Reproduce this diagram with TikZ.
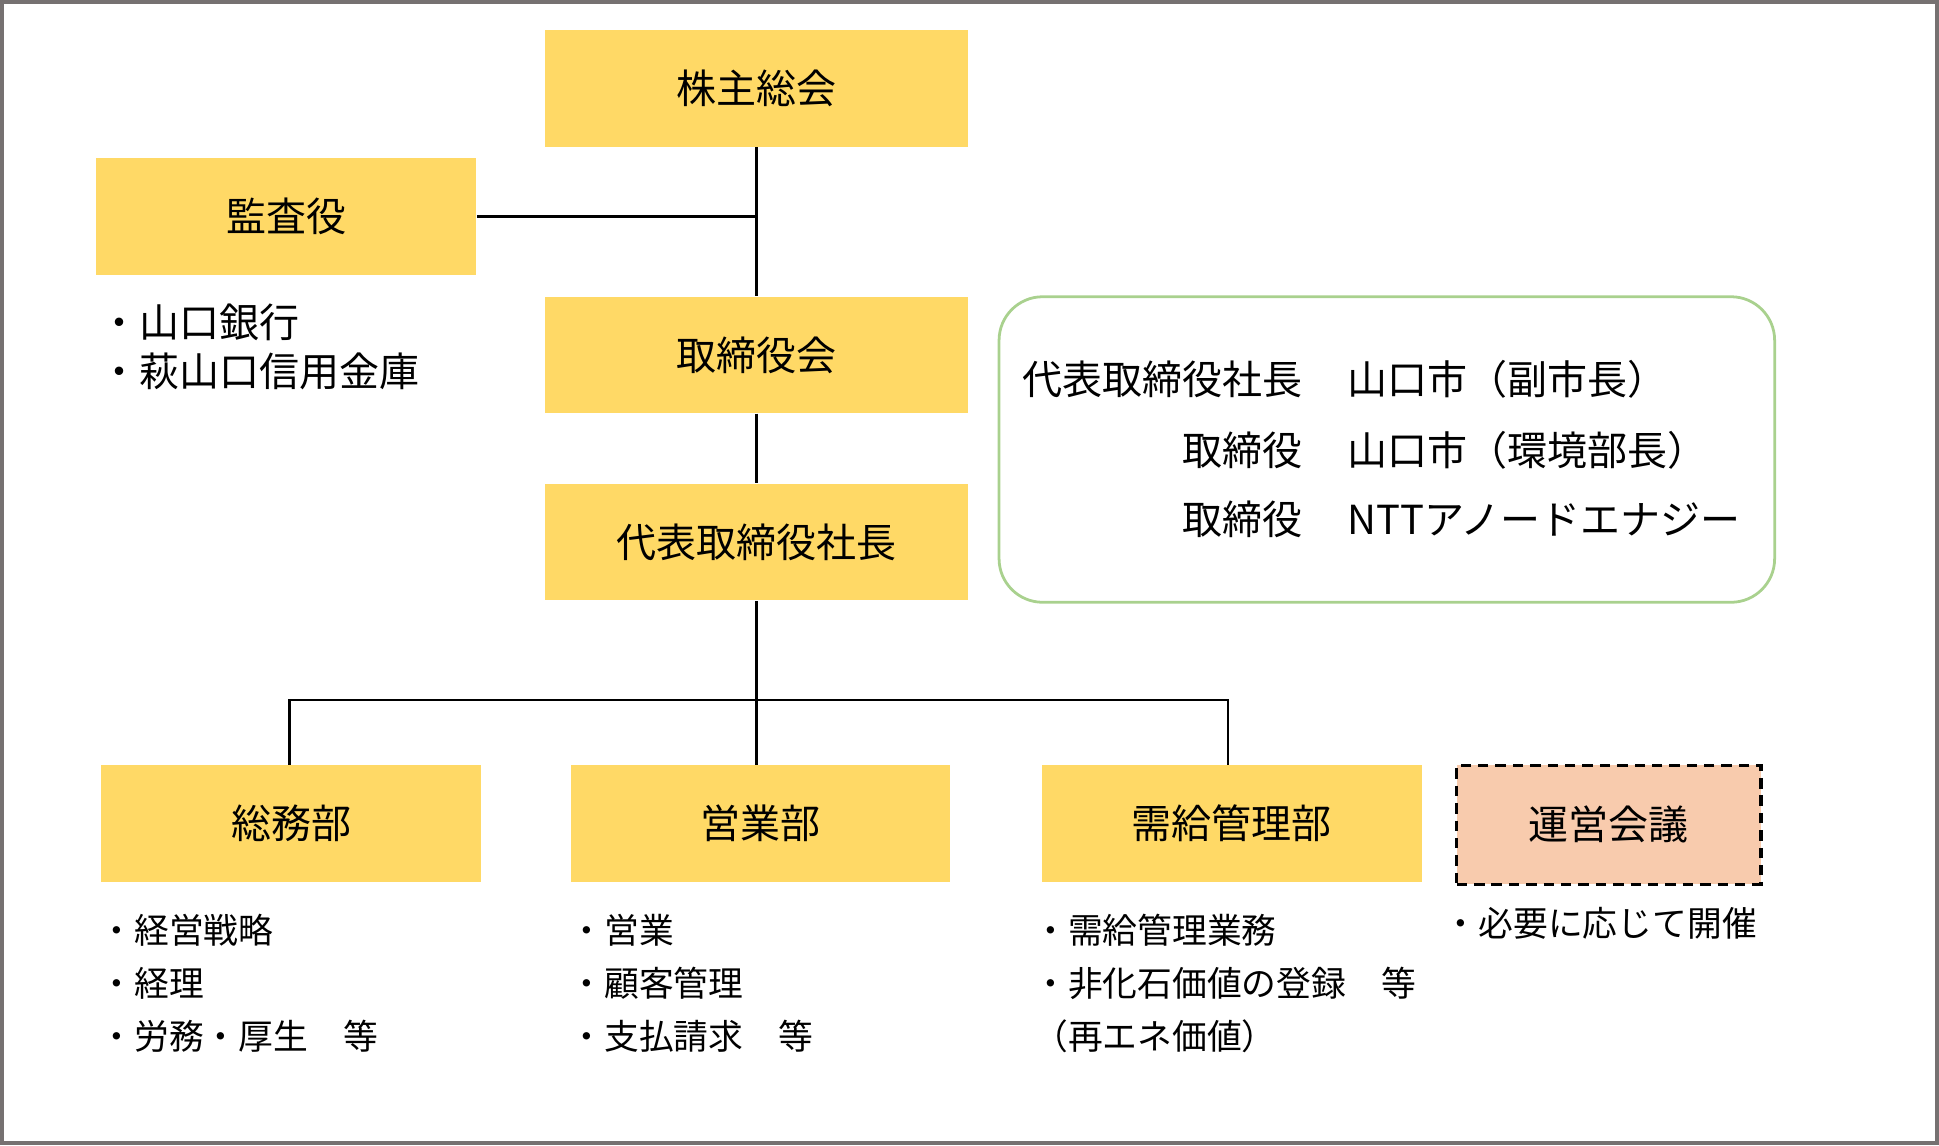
\documentclass[tikz,border=0pt]{standalone}
\usepackage{fontspec}
\setmainfont{Noto Sans CJK JP}
\usepackage{tikz}
\usetikzlibrary{positioning,calc}
\definecolor{boxyellow}{RGB}{255,217,102}
\definecolor{meetingpeach}{RGB}{248,203,173}
\definecolor{boardgreen}{RGB}{169,209,142}
\definecolor{framegray}{RGB}{118,113,113}
\tikzset{
  orgbox/.style={fill=boxyellow, inner sep=0pt, minimum height=1.175cm, font=\fontsize{11.5}{14}\selectfont},
  topbox/.style={orgbox, minimum width=4.275cm},
  deptbox/.style={orgbox, minimum width=3.8375cm},
  listitem/.style={anchor=west, inner sep=0pt, font=\fontsize{10}{12}\selectfont},
  boarditem/.style={inner sep=0pt, font=\fontsize{11.5}{14}\selectfont},
  orgline/.style={line width=0.8pt, black},
}

\begin{document}
\begin{tikzpicture}[x=0.0125cm, y=-0.0125cm]
  \useasboundingbox (0,0) rectangle (1568,926);
  \draw[framegray, line width=1.3pt] (1.8,1.8) rectangle (1566.2,924.2);

  % top of the chart
  \node[topbox] (kabunushi) at (612,71.5) {株主総会};
  \node[deptbox] (kansa) at (231.5,175) {監査役};
  \node[topbox] (torishimari) at (612,287) {取締役会};
  \node[topbox] (shacho) at (612,438.5) {代表取締役社長};

  \node[listitem, font=\fontsize{11.5}{13}\selectfont] (kansa1) at (80,261) {・山口銀行};
  \node[listitem, font=\fontsize{11.5}{13}\selectfont] (kansa2) at (80,300) {・萩山口信用金庫};

  % board members
  \node[draw=boardgreen, line width=0.8pt, rounded corners=0.44cm,
        minimum width=7.8375cm, minimum height=3.0875cm] (yakuin) at (1121.5,363.5) {};
  \node[boarditem, anchor=east] (post1) at (1054,307) {代表取締役社長};
  \node[boarditem, anchor=west] (name1) at (1089,307) {山口市（副市長）};
  \node[boarditem, anchor=east] (post2) at (1054,364) {取締役};
  \node[boarditem, anchor=west] (name2) at (1089,364) {山口市（環境部長）};
  \node[boarditem, anchor=east] (post3) at (1054,420) {取締役};
  \node[boarditem, anchor=west] (name3) at (1089,420) {NTTアノードエナジー};

  % departments
  \node[deptbox] (soumu) at (235.5,666) {総務部};
  \node[deptbox] (eigyo) at (615,666) {営業部};
  \node[deptbox] (jukyu) at (996,666) {需給管理部};
  \node[orgbox, fill=meetingpeach, draw=black, line width=0.9pt, dash pattern=on 3pt off 2pt,
        minimum width=3.075cm, minimum height=1.2cm] (unei) at (1301,667) {運営会議};

  \foreach \t [count=\i] in {・経営戦略, ・経理, ・労務・厚生　等}
    \node[listitem] (soumu\i) at (80,{709+43*\i}) {\t};
  \foreach \t [count=\i] in {・営業, ・顧客管理, ・支払請求　等}
    \node[listitem] (eigyo\i) at (460,{709+43*\i}) {\t};
  \foreach \t [count=\i] in {・需給管理業務, ・非化石価値の登録　等, （再エネ価値）}
    \node[listitem] (jukyu\i) at (835,{709+43*\i}) {\t};
  \node[listitem] (unei1) at (1167,747) {・必要に応じて開催};

  % connectors
  \coordinate (bus) at ($(shacho.south)+(0,80)$);
  \coordinate (busleft) at (234,566);
  \coordinate (busright) at (993,566);
  \draw[orgline] (kabunushi.south) -- (torishimari.north);
  \draw[orgline] (kansa.east) -- (kansa.east -| kabunushi.south);
  \draw[orgline] (torishimari.south) -- (shacho.north);
  \draw[orgline] (shacho.south) -- (bus |- eigyo.north);
  \draw[orgline] (busleft |- soumu.north) -- (busleft) -- (busright) -- (busright |- jukyu.north);
\end{tikzpicture}
\end{document}
